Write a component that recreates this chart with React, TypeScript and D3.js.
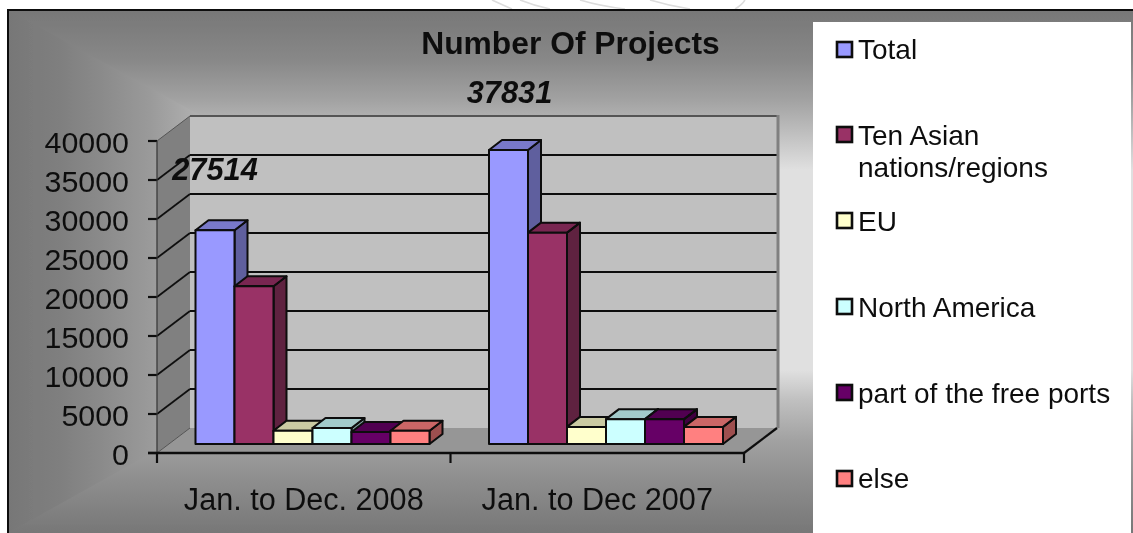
import React from "react";
import * as d3 from "d3";

const categories = ["Jan. to Dec. 2008", "Jan. to Dec 2007"];
const seriesNames = ["Total", "Ten Asian nations/regions", "EU", "North America", "part of the free ports", "else"];
const values2008 = [27514, 20300, 1700, 2050, 1550, 1700];
const values2007 = [37831, 27200, 2200, 3200, 3200, 2200];
const colors = ["#9999ff", "#993366", "#ffffcc", "#ccffff", "#660066", "#ff8080"];
const yTicks = [0, 5000, 10000, 15000, 20000, 25000, 30000, 35000, 40000];
const title = "Number Of Projects";

const W = 1133, H = 533;
const FONT = "'Liberation Sans', Arial, sans-serif";
const y = d3.scaleLinear().domain([0, 40000]).range([453, 141]);
const yBar = d3.scaleLinear().domain([0, 40000]).range([444, 133.2]);
const xCat = d3.scaleBand<string>().domain(categories).range([157, 744]);
const xSer = d3.scaleBand<string>().domain(seriesNames).range([38.5, 38.5 + 234]);
const wallDx = 33, wallDy = 25;
const barDx = 13, barDy = 10;

const shade = (c: string, k: number) => d3.rgb(c).darker(k).formatHex();
const poly = (p: number[][]) => p.map((q) => q.join(",")).join(" ");

const topStops: [number, string][] = [[10, "#777777"], [60, "#888888"], [100, "#a2a2a2"], [130, "#bcbcbc"], [170, "#e0e0e0"], [370, "#e0e0e0"], [400, "#c0c0c0"], [440, "#a2a2a2"], [480, "#8e8e8e"], [533, "#777777"]];
const leftStops: [number, string][] = [[8, "#777777"], [60, "#7f7f7f"], [100, "#8a8a8a"], [150, "#9a9a9a"], [300, "#e0e0e0"]];

const legendRows = [
  { lines: ["Total"], box: 42, base: [59] },
  { lines: ["Ten Asian", "nations/regions"], box: 127, base: [145, 177] },
  { lines: ["EU"], box: 213, base: [231] },
  { lines: ["North America"], box: 299, base: [317] },
  { lines: ["part of the free ports"], box: 385, base: [403] },
  { lines: ["else"], box: 471, base: [488] },
];

export default function App() {
  const x0 = 157, x1 = 744;
  const yBase = y(0);
  const rows = [values2008, values2007];
  return (
    <svg width={W} height={H} viewBox={`0 0 ${W} ${H}`} style={{ position: "absolute", left: 0, top: 0, background: "#fff", fontFamily: FONT }}>
      <defs>
        <linearGradient id="vg" gradientUnits="userSpaceOnUse" x1="0" x2="0" y1="10" y2="533">
          {topStops.map(([p, c]) => <stop key={p} offset={(p - 10) / 523} stopColor={c} />)}
        </linearGradient>
        <linearGradient id="hg" gradientUnits="userSpaceOnUse" x1="8" x2="300" y1="0" y2="0">
          {leftStops.map(([p, c]) => <stop key={p} offset={(p - 8) / 292} stopColor={c} />)}
        </linearGradient>
        <filter id="soft" x="0" y="0" width="100%" height="100%"><feGaussianBlur stdDeviation="0.7" /></filter>
      </defs>
      <g filter="url(#soft)">
        <g fill="none" stroke="#dcdcdc" strokeWidth="1.5">
          <path d="M492,0 Q505,6 512,9" />
          <path d="M520,0 Q535,6 550,9" />
          <path d="M580,0 Q600,6 625,9" />
          <path d="M650,0 Q670,6 690,9" />
          <path d="M745,0 Q742,5 735,9" />
        </g>
        <rect x={8} y={10} width={W - 8} height={H - 10} fill="url(#vg)" />
        <polygon points={poly([[8, 10], [300, 170], [300, 370], [8, 533]])} fill="url(#hg)" />
        <rect x={7} y={9} width={W - 7} height={2} fill="#111" />
        <rect x={7} y={9} width={2} height={H - 9} fill="#111" />

        {/* walls and floor */}
        <rect x={x0 + wallDx} y={y(40000) - wallDy} width={x1 - x0} height={y(0) - y(40000)} fill="#c0c0c0" />
        <polygon points={poly([[x0, y(40000)], [x0 + wallDx, y(40000) - wallDy], [x0 + wallDx, yBase - wallDy], [x0, yBase]])} fill="#808080" />
        <polygon points={poly([[x0, yBase], [x0 + wallDx, yBase - wallDy], [x1 + wallDx, yBase - wallDy], [x1, yBase]])} fill="#969696" />
        {yTicks.map((t) => {
          const edge = t === 0 || t === 40000;
          return (
            <g key={t}>
              {t !== 0 && <line x1={x0 + wallDx} x2={x1 + wallDx} y1={y(t) - wallDy} y2={y(t) - wallDy} stroke={t === 40000 ? "#555" : "#111"} strokeWidth={2} />}
              <line x1={x0} x2={x0 + wallDx} y1={y(t)} y2={y(t) - wallDy} stroke={edge ? "#555" : "#111"} strokeWidth={edge ? 1 : 1.8} />
              <line x1={148} x2={x0} y1={y(t)} y2={y(t)} stroke="#111" strokeWidth={2.2} />
              <text x={129} y={y(t) + 12} textAnchor="end" fontSize={30.4} fill="#111">{t}</text>
            </g>
          );
        })}
        <line x1={x1 + wallDx + 1} x2={x1 + wallDx + 1} y1={y(40000) - wallDy - 1} y2={yBase - wallDy} stroke="#808080" strokeWidth={3} />
        <line x1={x0} x2={x0} y1={y(40000)} y2={yBase} stroke="#333" strokeWidth={1.2} />

        {/* bars */}
        {categories.map((cat, ci) =>
          seriesNames.map((s, si) => {
            const left = (xCat(cat) as number) + (xSer(s) as number);
            const w = xSer.bandwidth();
            const top = yBar(rows[ci][si]);
            const bottom = yBar(0);
            const c = colors[si];
            return (
              <g key={cat + s} stroke="#0a0a0a" strokeWidth={2} strokeLinejoin="round">
                <polygon points={poly([[left + w, top], [left + w + barDx, top - barDy], [left + w + barDx, bottom - barDy], [left + w, bottom]])} fill={shade(c, 1.35)} />
                <polygon points={poly([[left, top], [left + barDx, top - barDy], [left + w + barDx, top - barDy], [left + w, top]])} fill={shade(c, 0.65)} />
                <rect x={left} y={top} width={w} height={bottom - top} fill={c} />
              </g>
            );
          })
        )}

        {/* floor edges and x ticks */}
        <line x1={x0 - 9} x2={x1} y1={yBase} y2={yBase} stroke="#111" strokeWidth={2.4} />
        <line x1={x1} x2={x1 + wallDx} y1={yBase} y2={yBase - wallDy} stroke="#111" strokeWidth={2.2} />
        {[x0, x0 + xCat.bandwidth(), x1].map((t) => (
          <line key={t} x1={t} x2={t} y1={yBase} y2={yBase + 10} stroke="#111" strokeWidth={2.2} />
        ))}
        {categories.map((cat) => (
          <text key={cat} x={(xCat(cat) as number) + xCat.bandwidth() / 2} y={510} textAnchor="middle" fontSize={30.6} fill="#111">{cat}</text>
        ))}

        <text x={570.5} y={54} textAnchor="middle" fontSize={31.8} fontWeight="bold" fill="#111">{title}</text>
        <text x={215} y={yBar(values2008[0]) - 50} textAnchor="middle" fontSize={30.8} fontWeight="bold" fontStyle="italic" fill="#111">{values2008[0]}</text>
        <text x={509.5} y={yBar(values2007[0]) - 47} textAnchor="middle" fontSize={30.8} fontWeight="bold" fontStyle="italic" fill="#111">{values2007[0]}</text>

        {/* legend */}
        <rect x={813} y={22} width={318} height={H - 22} fill="#fff" />
        {legendRows.map((r, i) => (
          <g key={r.lines[0]}>
            <rect x={837} y={r.box} width={15} height={15} fill={colors[i]} stroke="#0a0a0a" strokeWidth={2.6} />
            {r.lines.map((ln, j) => (
              <text key={ln} x={858} y={r.base[j]} fontSize={28} fill="#111">{ln}</text>
            ))}
          </g>
        ))}
      </g>
    </svg>
  );
}
